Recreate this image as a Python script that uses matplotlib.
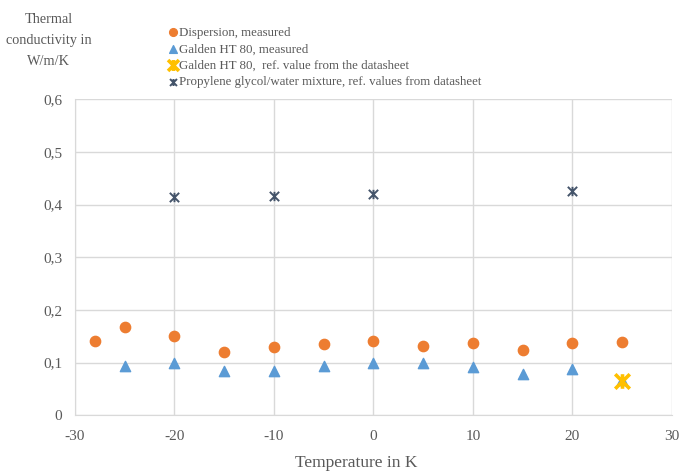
import matplotlib.pyplot as plt
from matplotlib.path import Path
from matplotlib.ticker import FuncFormatter

plt.rcParams['font.family'] = ['Liberation Serif', 'DejaVu Serif']
plt.rcParams['axes.unicode_minus'] = False

# measured dispersion
disp_t = [-28, -25, -20, -15, -10, -5, 0, 5, 10, 15, 20, 25]
disp_k = [0.140, 0.167, 0.150, 0.120, 0.129, 0.135, 0.140, 0.131, 0.137, 0.123, 0.137, 0.139]

# measured Galden HT 80
gald_t = [-25, -20, -15, -10, -5, 0, 5, 10, 15, 20, 25]
gald_k = [0.093, 0.099, 0.083, 0.083, 0.093, 0.100, 0.099, 0.091, 0.078, 0.087, 0.066]

# datasheet values
gref_t = [25]
gref_k = [0.065]
pg_t = [-20, -10, 0, 20]
pg_k = [0.414, 0.417, 0.421, 0.425]

# excel style star: an x with a vertical bar
star = Path([(-1, -1), (1, 1), (-1, 1), (1, -1), (0, -1), (0, 1)],
            [Path.MOVETO, Path.LINETO, Path.MOVETO, Path.LINETO, Path.MOVETO, Path.LINETO])

fig = plt.figure(figsize=(6.8, 4.75), dpi=100)
ax = fig.add_axes([0.110, 0.126, 0.878, 0.665])

ax.scatter(disp_t, disp_k, s=55, marker='o', color='#ED7D31', label='Dispersion, measured', zorder=3)
ax.scatter(gald_t, gald_k, s=55, marker='^', color='#5B9BD5', label='Galden HT 80, measured', zorder=3)
ax.scatter(gref_t, gref_k, s=110, marker=star, color='#FFC000', linewidths=2.6,
           label='Galden HT 80,  ref. value from the datasheet', zorder=4)
ax.scatter(pg_t, pg_k, s=45, marker=star, color='#44546A', linewidths=1.4,
           label='Propylene glycol/water mixture, ref. values from datasheet', zorder=3)

ax.set_xlim(-30, 30)
ax.set_ylim(0, 0.6)
ax.set_xticks(range(-30, 31, 10))
ax.set_yticks([0, 0.1, 0.2, 0.3, 0.4, 0.5, 0.6])
ax.yaxis.set_major_formatter(FuncFormatter(lambda v, p: '0' if v == 0 else ('%.1f' % v).replace('.', ',')))
ax.grid(True, color='#D9D9D9', linewidth=1)
ax.set_axisbelow(True)
for s in ['top', 'right']:
    ax.spines[s].set_visible(False)
for s in ['left', 'bottom']:
    ax.spines[s].set_color('#D9D9D9')
ax.tick_params(length=0, labelsize=11, colors='#595959')
ax.tick_params(axis='x', pad=11)
ax.tick_params(axis='y', pad=9)

fig.text(356 / 680, 0.025, 'Temperature in K', ha='center', va='center',
         fontsize=12.5, color='#595959')
fig.text(0.072, 0.972, 'Thermal\nconductivity in\nW/m/K', ha='center', va='top',
         fontsize=10.3, color='#595959', linespacing=1.8)

ax.legend(loc='lower left', bbox_to_anchor=(0.14, 1.01), frameon=False, fontsize=9.3,
          handletextpad=0.0, handlelength=1.0, labelspacing=0.35, borderaxespad=0.2,
          labelcolor='#595959', markerscale=0.75)

fig.savefig('out.png', dpi=100)
